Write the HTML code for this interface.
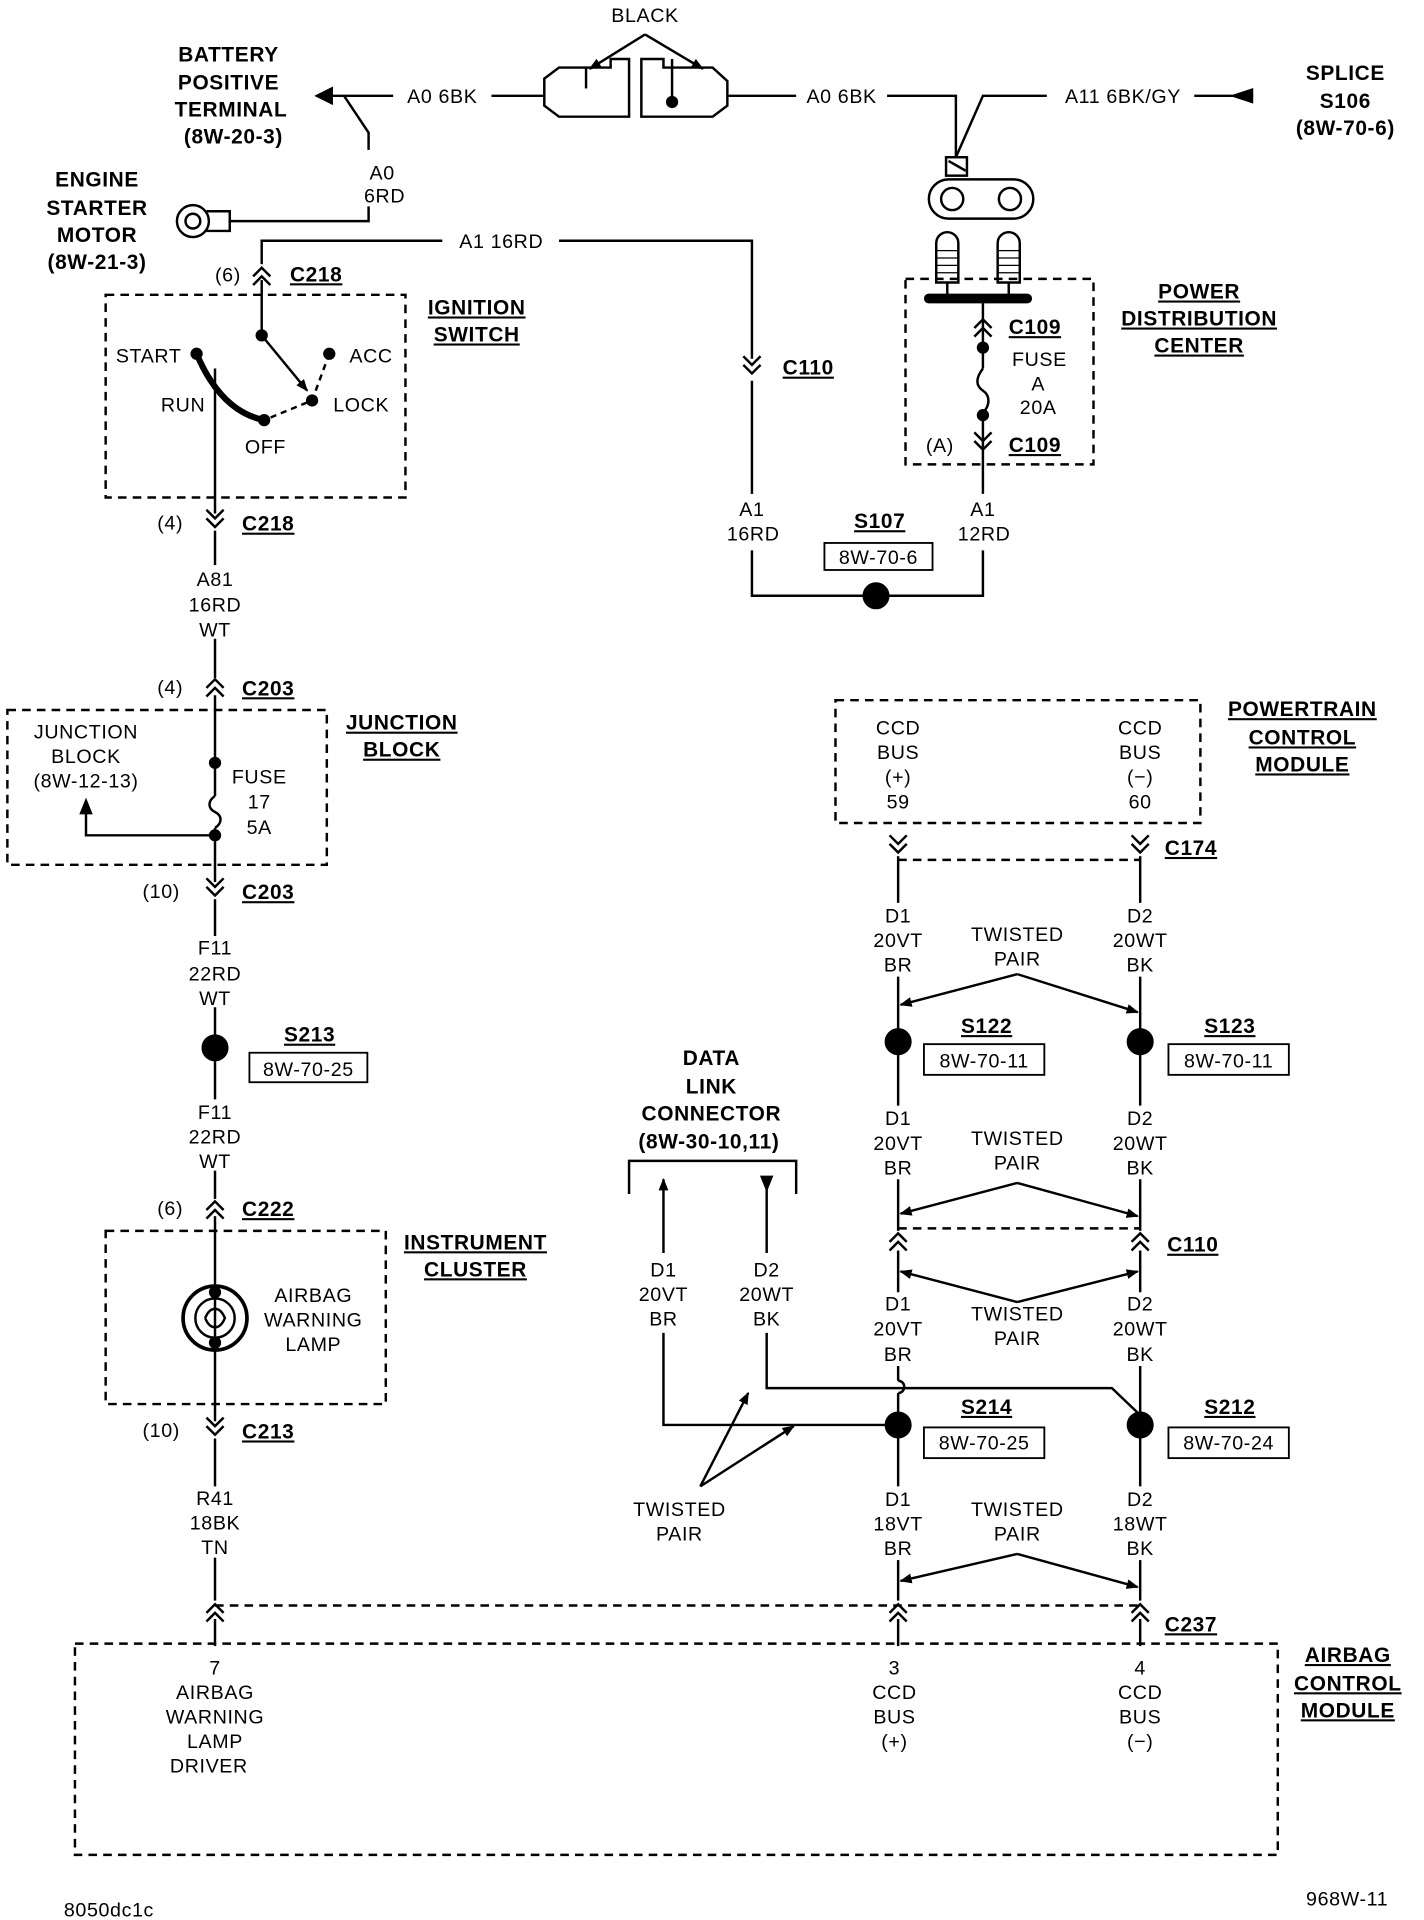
<!DOCTYPE html>
<html><head><meta charset="utf-8">
<style>
html,body{margin:0;padding:0;background:#fff;}
svg{display:block;}
text{font-family:"Liberation Sans",sans-serif;font-size:16px;fill:#000;letter-spacing:0.5px;}
.b{font-weight:bold;font-size:17px;text-decoration:underline;}
.bn{font-weight:bold;font-size:17px;}
</style></head>
<body>
<svg width="1424" height="1920" viewBox="0 0 1159 1563" preserveAspectRatio="none" xmlns="http://www.w3.org/2000/svg">
<defs>
<g id="cu" fill="none" stroke="#000" stroke-width="2"><path d="M-7,3 L0,-4 L7,3 M-7,10 L0,3 L7,10"/></g>
<g id="cd" fill="none" stroke="#000" stroke-width="2"><path d="M-7,-10 L0,-3 L7,-10 M-7,-3 L0,4 L7,-3"/></g>
<marker id="ah" markerWidth="10" markerHeight="10" refX="9" refY="5" orient="auto" markerUnits="userSpaceOnUse"><path d="M0,1 L10,5 L0,9 Z" fill="#000"/></marker>
</defs>
<g stroke="#000" stroke-width="2" fill="none">
<polyline points="258,78 320,78"/>
<path d="M258,78 l12,-6 l0,12 z" fill="#000"/>
<polyline points="400,78 443,78"/>
<polyline points="592,78 648,78"/>
<polyline points="722,78 778,78 778,128"/>
<polyline points="852,78 800,78 778,128"/>
<polyline points="972,78 1020,78"/>
<path d="M1004,78 l15,-5 l0,10 z" fill="#000"/>
<path d="M443,64 L455,55 L497,55 L497,48 L512,48 L512,95 L455,95 L443,86 Z"/>
<path d="M522,48 L540,48 L540,55 L580,55 L592,66 L592,86 L580,95 L522,95 Z"/>
<line x1="477" y1="55" x2="477" y2="72"/>
<line x1="547" y1="48" x2="547" y2="80"/>
<circle cx="547" cy="83" r="4" fill="#000"/>
<line x1="525" y1="28" x2="480" y2="56" marker-end="url(#ah)"/>
<line x1="525" y1="28" x2="572" y2="56" marker-end="url(#ah)"/>
<polyline points="280,78 300,108 300,122"/>
<polyline points="300,168 300,180 187,180"/>
<circle cx="157" cy="180" r="13"/><circle cx="157" cy="180" r="6"/>
<path d="M168,172 L187,172 L187,188 L168,188"/>
<polyline points="213,215 213,196 360,196"/>
<polyline points="455,196 612,196 612,292"/>
<line x1="612" y1="310" x2="612" y2="402"/>
<polyline points="612,448 612,485 800,485 800,448"/>
<circle cx="713" cy="485" r="10" fill="#000"/>
<rect x="671" y="442" width="88" height="22" stroke-width="1.5"/>
<rect x="770" y="128" width="17" height="15"/>
<line x1="772" y1="131" x2="786" y2="139"/>
<rect x="756" y="146" width="85" height="32" rx="16"/>
<circle cx="775" cy="162" r="9"/><circle cx="822" cy="162" r="9"/>
<path d="M762,230 L762,198 a9,9 0 0 1 18,0 L780,230 Z"/>
<path d="M812,230 L812,198 a9,9 0 0 1 18,0 L830,230 Z"/>
<path d="M762,204h18M762,210h18M762,216h18M762,222h18M812,204h18M812,210h18M812,216h18M812,222h18" stroke-width="1"/>
<line x1="771" y1="230" x2="771" y2="242"/><line x1="821" y1="230" x2="821" y2="242"/>
<line x1="756" y1="243" x2="836" y2="243" stroke-width="8" stroke-linecap="round"/>
<rect x="737" y="227" width="153" height="151" stroke-dasharray="7,5"/>
<line x1="800" y1="243" x2="800" y2="300"/>
<path d="M800,300 c-6,8 -6,14 0,18 c6,4 6,12 0,18"/>
<line x1="800" y1="336" x2="800" y2="402"/>
<circle cx="800" cy="283" r="4" fill="#000"/><circle cx="800" cy="338" r="4" fill="#000"/>
<rect x="86" y="240" width="244" height="165" stroke-dasharray="7,5"/>
<line x1="213" y1="228" x2="213" y2="272"/>
<circle cx="213" cy="273" r="4" fill="#000"/>
<line x1="213" y1="273" x2="250" y2="318" marker-end="url(#ah)"/>
<path d="M160,288 Q180,335 215,342" stroke-width="5"/>
<circle cx="160" cy="288" r="4" fill="#000"/>
<circle cx="215" cy="342" r="4" fill="#000"/>
<circle cx="268" cy="288" r="4" fill="#000"/>
<circle cx="254" cy="326" r="4" fill="#000"/>
<path d="M268,288 L254,326 L215,342" stroke-dasharray="5,4"/>
<line x1="175" y1="300" x2="175" y2="418"/>
<line x1="175" y1="432" x2="175" y2="460"/>
<line x1="175" y1="520" x2="175" y2="552"/>
<rect x="6" y="578" width="260" height="126" stroke-dasharray="7,5"/>
<line x1="175" y1="566" x2="175" y2="648"/>
<path d="M175,648 c-6,4 -6,10 0,13 c6,3 6,9 0,13"/>
<line x1="175" y1="674" x2="175" y2="718"/>
<circle cx="175" cy="621" r="4" fill="#000"/><circle cx="175" cy="680" r="4" fill="#000"/>
<polyline points="175,680 70,680 70,660"/>
<path d="M70,652 l-4,10 l8,0 z" fill="#000"/>
<line x1="175" y1="732" x2="175" y2="762"/>
<line x1="175" y1="820" x2="175" y2="895"/>
<circle cx="175" cy="853" r="10" fill="#000"/>
<rect x="203" y="857" width="96" height="24" stroke-width="1.5"/>
<line x1="175" y1="953" x2="175" y2="976"/>
<rect x="86" y="1002" width="228" height="141" stroke-dasharray="7,5"/>
<line x1="175" y1="990" x2="175" y2="1157"/>
<circle cx="175" cy="1073" r="26" stroke-width="3" fill="#fff"/>
<circle cx="175" cy="1073" r="16" stroke-width="2"/>
<path d="M167,1073 c4,-10 12,-10 16,0 c-4,10 -12,10 -16,0" />
<circle cx="175" cy="1052" r="4" fill="#000"/><circle cx="175" cy="1093" r="4" fill="#000"/>
<line x1="175" y1="1052" x2="175" y2="1093"/>
<line x1="175" y1="1171" x2="175" y2="1210"/>
<line x1="175" y1="1268" x2="175" y2="1303"/>
<line x1="175" y1="1318" x2="175" y2="1340"/>
<line x1="175" y1="1307" x2="928" y2="1307" stroke-dasharray="7,5"/>
<rect x="61" y="1338" width="979" height="172" stroke-dasharray="7,5"/>
<rect x="680" y="570" width="297" height="100" stroke-dasharray="7,5"/>
<line x1="731" y1="700" x2="928" y2="700" stroke-dasharray="7,5"/>
<line x1="731" y1="697" x2="731" y2="735"/><line x1="928" y1="697" x2="928" y2="735"/>
<line x1="731" y1="795" x2="731" y2="900"/><line x1="928" y1="795" x2="928" y2="900"/>
<circle cx="731" cy="848" r="10" fill="#000"/><circle cx="928" cy="848" r="10" fill="#000"/>
<rect x="752" y="850" width="98" height="25" stroke-width="1.5"/>
<rect x="951" y="850" width="98" height="25" stroke-width="1.5"/>
<line x1="731" y1="960" x2="731" y2="1002"/><line x1="928" y1="960" x2="928" y2="1002"/>
<line x1="731" y1="1000" x2="928" y2="1000" stroke-dasharray="7,5"/>
<line x1="731" y1="1018" x2="731" y2="1052"/><line x1="928" y1="1018" x2="928" y2="1052"/>
<line x1="731" y1="1112" x2="731" y2="1124"/>
<path d="M731,1124 a5,5 0 0 1 0,10"/>
<line x1="731" y1="1134" x2="731" y2="1210"/>
<line x1="928" y1="1112" x2="928" y2="1210"/>
<circle cx="731" cy="1160" r="10" fill="#000"/><circle cx="928" cy="1160" r="10" fill="#000"/>
<rect x="752" y="1162" width="98" height="25" stroke-width="1.5"/>
<rect x="951" y="1162" width="98" height="25" stroke-width="1.5"/>
<line x1="731" y1="1270" x2="731" y2="1303"/><line x1="928" y1="1270" x2="928" y2="1303"/>
<line x1="731" y1="1318" x2="731" y2="1340"/><line x1="928" y1="1318" x2="928" y2="1340"/>
<line x1="828" y1="793" x2="733" y2="818" marker-end="url(#ah)"/>
<line x1="828" y1="793" x2="926" y2="824" marker-end="url(#ah)"/>
<line x1="828" y1="963" x2="733" y2="988" marker-end="url(#ah)"/>
<line x1="828" y1="963" x2="926" y2="990" marker-end="url(#ah)"/>
<line x1="828" y1="1060" x2="733" y2="1035" marker-end="url(#ah)"/>
<line x1="828" y1="1060" x2="926" y2="1035" marker-end="url(#ah)"/>
<line x1="828" y1="1265" x2="733" y2="1287" marker-end="url(#ah)"/>
<line x1="828" y1="1265" x2="926" y2="1292" marker-end="url(#ah)"/>
<polyline points="512,972 512,945 648,945 648,972"/>
<line x1="540" y1="1020" x2="540" y2="960" marker-end="url(#ah)"/>
<line x1="624" y1="966" x2="624" y2="1020"/>
<path d="M624,968 l-4,-10 l8,0 z" fill="#000"/>
<polyline points="540,1085 540,1160 731,1160"/>
<polyline points="624,1085 624,1130 905,1130 928,1152"/>
<line x1="570" y1="1210" x2="609" y2="1134" marker-end="url(#ah)"/>
<line x1="570" y1="1210" x2="646" y2="1161" marker-end="url(#ah)"/>
</g>
<use href="#cu" x="213" y="222"/>
<use href="#cd" x="175" y="425"/>
<use href="#cu" x="175" y="557"/>
<use href="#cd" x="175" y="725"/>
<use href="#cu" x="175" y="982"/>
<use href="#cd" x="175" y="1164"/>
<use href="#cu" x="175" y="1310"/>
<use href="#cd" x="612" y="300"/>
<use href="#cu" x="800" y="264"/>
<use href="#cd" x="800" y="362"/>
<use href="#cd" x="731" y="690"/><use href="#cd" x="928" y="690"/>
<use href="#cu" x="731" y="1008"/><use href="#cu" x="928" y="1008"/>
<use href="#cu" x="731" y="1310"/><use href="#cu" x="928" y="1310"/>
<g text-anchor="middle">
<text x="525" y="18">BLACK</text>
<text x="186" y="50" class="bn">BATTERY</text>
<text x="186" y="73" class="bn">POSITIVE</text>
<text x="188" y="95" class="bn">TERMINAL</text>
<text x="190" y="117" class="bn">(8W-20-3)</text>
<text x="79" y="152" class="bn">ENGINE</text>
<text x="79" y="175" class="bn">STARTER</text>
<text x="79" y="197" class="bn">MOTOR</text>
<text x="79" y="219" class="bn">(8W-21-3)</text>
<text x="1095" y="65" class="bn">SPLICE</text>
<text x="1095" y="88" class="bn">S106</text>
<text x="1095" y="110" class="bn">(8W-70-6)</text>
<text x="360" y="84">A0 6BK</text>
<text x="685" y="84">A0 6BK</text>
<text x="914" y="84">A11 6BK/GY</text>
<text x="311" y="146">A0</text>
<text x="313" y="165">6RD</text>
<text x="408" y="202">A1 16RD</text>
<text x="976" y="243" class="b">POWER</text>
<text x="976" y="265" class="b">DISTRIBUTION</text>
<text x="976" y="287" class="b">CENTER</text>
<text x="846" y="298">FUSE</text>
<text x="845" y="318">A</text>
<text x="845" y="337">20A</text>
<text x="765" y="368">(A)</text>
<text x="612" y="420">A1</text>
<text x="613" y="440">16RD</text>
<text x="800" y="420">A1</text>
<text x="801" y="440">12RD</text>
<text x="716" y="430" class="b">S107</text>
<text x="715" y="459">8W-70-6</text>
<text x="388" y="256" class="b">IGNITION</text>
<text x="388" y="278" class="b">SWITCH</text>
<text x="121" y="295">START</text>
<text x="302" y="295">ACC</text>
<text x="149" y="335">RUN</text>
<text x="294" y="335">LOCK</text>
<text x="216" y="369">OFF</text>
<text x="175" y="477">A81</text>
<text x="175" y="498">16RD</text>
<text x="175" y="518">WT</text>
<text x="327" y="594" class="b">JUNCTION</text>
<text x="327" y="616" class="b">BLOCK</text>
<text x="70" y="601">JUNCTION</text>
<text x="70" y="621">BLOCK</text>
<text x="70" y="641">(8W-12-13)</text>
<text x="211" y="638">FUSE</text>
<text x="211" y="658">17</text>
<text x="211" y="679">5A</text>
<text x="175" y="777">F11</text>
<text x="175" y="798">22RD</text>
<text x="175" y="818">WT</text>
<text x="252" y="848" class="b">S213</text>
<text x="251" y="876">8W-70-25</text>
<text x="175" y="911">F11</text>
<text x="175" y="931">22RD</text>
<text x="175" y="951">WT</text>
<text x="387" y="1017" class="b">INSTRUMENT</text>
<text x="387" y="1039" class="b">CLUSTER</text>
<text x="255" y="1060">AIRBAG</text>
<text x="255" y="1080">WARNING</text>
<text x="255" y="1100">LAMP</text>
<text x="175" y="1225">R41</text>
<text x="175" y="1245">18BK</text>
<text x="175" y="1265">TN</text>
<text x="175" y="1363">7</text>
<text x="175" y="1383">AIRBAG</text>
<text x="175" y="1403">WARNING</text>
<text x="175" y="1423">LAMP</text>
<text x="170" y="1443">DRIVER</text>
<text x="1097" y="1353" class="b">AIRBAG</text>
<text x="1097" y="1376" class="b">CONTROL</text>
<text x="1097" y="1398" class="b">MODULE</text>
<text x="1060" y="583" class="b">POWERTRAIN</text>
<text x="1060" y="606" class="b">CONTROL</text>
<text x="1060" y="628" class="b">MODULE</text>
<text x="731" y="598">CCD</text><text x="731" y="618">BUS</text><text x="731" y="638">(+)</text><text x="731" y="658">59</text>
<text x="928" y="598">CCD</text><text x="928" y="618">BUS</text><text x="928" y="638">(−)</text><text x="928" y="658">60</text>
<text x="731" y="751">D1</text><text x="731" y="771">20VT</text><text x="731" y="791">BR</text>
<text x="928" y="751">D2</text><text x="928" y="771">20WT</text><text x="928" y="791">BK</text>
<text x="828" y="766">TWISTED</text><text x="828" y="786">PAIR</text>
<text x="803" y="841" class="b">S122</text><text x="801" y="869">8W-70-11</text>
<text x="1001" y="841" class="b">S123</text><text x="1000" y="869">8W-70-11</text>
<text x="731" y="916">D1</text><text x="731" y="936">20VT</text><text x="731" y="956">BR</text>
<text x="928" y="916">D2</text><text x="928" y="936">20WT</text><text x="928" y="956">BK</text>
<text x="828" y="932">TWISTED</text><text x="828" y="952">PAIR</text>
<text x="828" y="1075">TWISTED</text><text x="828" y="1095">PAIR</text>
<text x="731" y="1067">D1</text><text x="731" y="1087">20VT</text><text x="731" y="1108">BR</text>
<text x="928" y="1067">D2</text><text x="928" y="1087">20WT</text><text x="928" y="1108">BK</text>
<text x="803" y="1151" class="b">S214</text><text x="801" y="1180">8W-70-25</text>
<text x="1001" y="1151" class="b">S212</text><text x="1000" y="1180">8W-70-24</text>
<text x="731" y="1226">D1</text><text x="731" y="1246">18VT</text><text x="731" y="1266">BR</text>
<text x="928" y="1226">D2</text><text x="928" y="1246">18WT</text><text x="928" y="1266">BK</text>
<text x="828" y="1234">TWISTED</text><text x="828" y="1254">PAIR</text>
<text x="728" y="1363">3</text><text x="728" y="1383">CCD</text><text x="728" y="1403">BUS</text><text x="728" y="1423">(+)</text>
<text x="928" y="1363">4</text><text x="928" y="1383">CCD</text><text x="928" y="1403">BUS</text><text x="928" y="1423">(−)</text>
<text x="579" y="867" class="bn">DATA</text>
<text x="579" y="890" class="bn">LINK</text>
<text x="579" y="912" class="bn">CONNECTOR</text>
<text x="577" y="935" class="bn">(8W-30-10,11)</text>
<text x="540" y="1039">D1</text><text x="540" y="1059">20VT</text><text x="540" y="1079">BR</text>
<text x="624" y="1039">D2</text><text x="624" y="1059">20WT</text><text x="624" y="1079">BK</text>
<text x="553" y="1234">TWISTED</text><text x="553" y="1254">PAIR</text>
</g>
<g>
<text x="175" y="229">(6)</text>
<text x="236" y="229" class="b">C218</text>
<text x="128" y="431">(4)</text>
<text x="197" y="432" class="b">C218</text>
<text x="128" y="565">(4)</text>
<text x="197" y="566" class="b">C203</text>
<text x="116" y="731">(10)</text>
<text x="197" y="732" class="b">C203</text>
<text x="128" y="989">(6)</text>
<text x="197" y="990" class="b">C222</text>
<text x="116" y="1170">(10)</text>
<text x="197" y="1171" class="b">C213</text>
<text x="637" y="305" class="b">C110</text>
<text x="821" y="272" class="b">C109</text>
<text x="821" y="368" class="b">C109</text>
<text x="948" y="696" class="b">C174</text>
<text x="950" y="1019" class="b">C110</text>
<text x="948" y="1328" class="b">C237</text>
<text x="52" y="1560">8050dc1c</text>
<text x="1063" y="1551">968W-11</text>
</g>
</svg>
</body></html>
